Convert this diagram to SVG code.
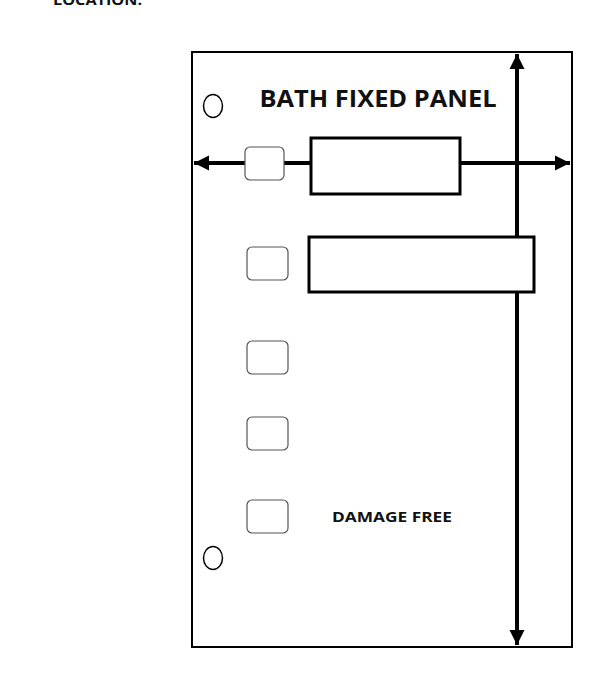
<svg xmlns="http://www.w3.org/2000/svg" width="600" height="700" viewBox="0 0 600 700">
<style>
.t{font-family:"Open Sans","Liberation Sans",sans-serif;font-weight:bold;fill:#111}
.sq{fill:#fff;stroke:#555;stroke-width:1.2}
.bx{fill:#fff;stroke:#000;stroke-width:3}
.hole{fill:#fff;stroke:#000;stroke-width:1.5}
.ln{stroke:#000;stroke-width:4;fill:none}
</style>
<defs>
<marker id="ah" viewBox="0 0 10 10" refX="10" refY="5" markerWidth="3.8" markerHeight="3.8" orient="auto-start-reverse" markerUnits="strokeWidth">
<path d="M0,0 L10,5 L0,10 Z" fill="#000"/>
</marker>
</defs>
<rect width="600" height="700" fill="#fff"/>
<text class="t" x="53" y="5" font-size="14" textLength="89" lengthAdjust="spacingAndGlyphs">LOCATION:</text>
<g id="panel">
<rect x="192" y="52" width="380" height="595" fill="#fff" stroke="#000" stroke-width="2"/>
</g>
<g id="connectors">
<line class="ln" x1="194" y1="163" x2="570" y2="163" marker-start="url(#ah)" marker-end="url(#ah)"/>
<line class="ln" x1="517" y1="54" x2="517" y2="645" marker-start="url(#ah)" marker-end="url(#ah)"/>
</g>
<g id="title"><text class="t" x="378" y="107" font-size="24" text-anchor="middle" textLength="237" lengthAdjust="spacingAndGlyphs">BATH FIXED PANEL</text></g>
<g id="hole1"><ellipse class="hole" cx="213" cy="106" rx="9.5" ry="11.5"/></g>
<g id="hole2"><ellipse class="hole" cx="213" cy="558" rx="9.5" ry="11.5"/></g>
<g id="box1"><rect class="sq" x="245" y="147" width="39" height="33" rx="5"/></g>
<g id="rect1"><rect class="bx" x="311" y="138" width="149" height="56"/></g>
<g id="rect2"><rect class="bx" x="309" y="237" width="225" height="55"/></g>
<g id="box2"><rect class="sq" x="247" y="247" width="41" height="33" rx="5"/></g>
<g id="box3"><rect class="sq" x="247" y="341" width="41" height="33" rx="5"/></g>
<g id="box4"><rect class="sq" x="247" y="417" width="41" height="33" rx="5"/></g>
<g id="box5"><rect class="sq" x="247" y="500" width="41" height="33" rx="5"/></g>
<g id="label"><text class="t" x="392" y="522" font-size="15" text-anchor="middle" textLength="120" lengthAdjust="spacingAndGlyphs">DAMAGE FREE</text></g>
</svg>
